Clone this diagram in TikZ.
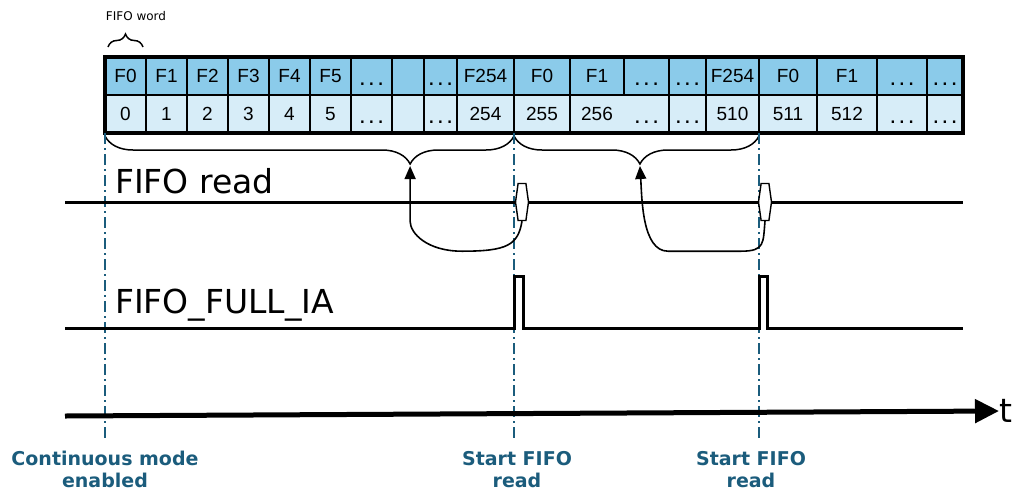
\documentclass[tikz,border=0pt]{standalone}
\usepackage{fontspec}
\setmainfont{DejaVu Sans}
\newfontfamily\cellfont{Liberation Sans}
\usetikzlibrary{arrows.meta, calc, fit, positioning, shapes.symbols, decorations.pathreplacing}

\definecolor{wordblue}{HTML}{8BCBEA}
\definecolor{addrblue}{HTML}{D7EDF8}
\definecolor{markteal}{HTML}{1B5C7C}
\newcommand{\celldots}{\raisebox{-3pt}{\fontsize{24}{24}\selectfont .\hspace{2.5pt}.\hspace{2.5pt}.}}

\begin{document}
\begin{tikzpicture}[x=1pt, y=-1pt, >={Triangle[length=13pt, width=11pt]},
    cell/.style={inner sep=0pt, outer sep=0pt, minimum height=38pt, text height=14pt, text depth=2pt, font=\cellfont\fontsize{19}{21}\selectfont},
    wordcell/.style={cell, fill=wordblue},
    addrcell/.style={cell, fill=addrblue},
    gridline/.style={line width=1.5pt},
    spanbrace/.style={decorate, decoration={brace, amplitude=#1}, line width=1.5pt},
    marker/.style={markteal, line width=1.4pt, dash pattern=on 11pt off 4pt on 2pt off 4pt},
    caption/.style={markteal, anchor=north, align=center, inner sep=0pt, font=\bfseries\fontsize{19}{22}\selectfont},
    signame/.style={anchor=base west, inner sep=0pt, font=\fontsize{33}{36}\selectfont},
    pill/.style={signal, signal to=east and west, signal pointer angle=164, draw, fill=white, line width=1.4pt, minimum width=13pt, minimum height=37pt, inner sep=0pt}]
  \useasboundingbox (0,0) rectangle (1022,493);

  % FIFO words (top row) and their addresses (bottom row)
  \foreach \xl/\xr/\fw/\ad [count=\i] in {105/146/F0/0, 146/187/F1/1, 187/228/F2/2, 228/269/F3/3, 269/310/F4/4, 310/351/F5/5, 351/392/\celldots/\celldots, 392/424//, 424/457/\celldots/\celldots, 457/514/F254/254, 514/570/F0/255, 570/624/F1/256, 624/669/\celldots/\celldots, 669/706/\celldots/\celldots, 706/759/F254/510, 759/817/F0/511, 817/877/F1/512, 877/927/\celldots/\celldots, 927/963/\celldots/\celldots}
  {
    \node[wordcell, minimum width={(\xr-\xl)*1pt}] at ({(\xl+\xr)/2}, 76) (word-\i) {\fw};
    \node[addrcell, minimum width={(\xr-\xl)*1pt}] at ({(\xl+\xr)/2}, 114) (addr-\i) {\ad};
  }
  \foreach \i in {2,...,19}
    \draw[gridline] (word-\i.north west) -- (word-\i.south west);
  \foreach \i in {2,3,4,5,6,7,8,9,10,11,12,14,15,16,17,18,19}
    \draw[gridline] (addr-\i.north west) -- (addr-\i.south west);
  \draw[gridline] (word-1.south west) -- (word-19.south east);
  \node[draw, line width=3.5pt, inner sep=0pt, fit=(word-1) (addr-19)] (table) {};

  \draw[spanbrace=13pt] ([xshift=3pt, yshift=10pt]word-1.north west) -- ([xshift=-3pt, yshift=10pt]word-1.north east);
  \node[font=\fontsize{12}{14}\selectfont, inner sep=0pt] at (136,16) (word-note) {FIFO word};

  % spans read out at each start
  \draw[spanbrace=28pt, decoration={mirror, aspect=0.746}] ([yshift=-3pt]addr-1.south west) -- ([yshift=-3pt]addr-11.south west);
  \draw[spanbrace=28pt, decoration={mirror, aspect=0.514}] ([yshift=-3pt]addr-11.south west) -- ([yshift=-3pt]addr-16.south west);
  \coordinate (tip-1) at ($(addr-1.south west)!0.746!(addr-11.south west) + (0,33)$);
  \coordinate (tip-2) at ($(addr-11.south west)!0.514!(addr-16.south west) + (0,33)$);

  \foreach \i/\c in {0/1, 1/11, 2/16}
    \draw[marker] (addr-\c.south west) -- ++(0,306) coordinate (mark-\i);

  % FIFO read
  \coordinate (read-0) at (65,202);
  \coordinate (read-1) at (963,202);
  \node[pill] (pill-1) at (522,202) {};
  \node[pill] (pill-2) at (765,202) {};
  \draw[line width=3pt] (read-0) -- (pill-1.west) (pill-1.east) -- (pill-2.west) (pill-2.east) -- (read-1);
  \node[signame] (read-name) at (115,193) {FIFO read};

  \draw[->, line width=1.6pt] (pill-1.south) .. controls +(-4,24) and +(45,0) .. ++(-60,30) .. controls +(-35,0) and +(0,12) .. (tip-1 |- pill-1.south) -- (tip-1);
  \draw[->, line width=1.6pt] (pill-2.south) .. controls +(-2,22) and +(24,0) .. ++(-24,30) -- ++(-73,0) .. controls +(-26,0) and +(2,32) .. (tip-2);

  % FIFO_FULL_IA
  \coordinate (full-0) at (65,328);
  \coordinate (full-1) at (963,328);
  \draw[line width=3pt] (full-0) -- (mark-1 |- full-0) -- ++(0,-52) -- ++(9,0) -- ++(0,52) -- (mark-2 |- full-0) -- ++(0,-52) -- ++(8,0) -- ++(0,52) -- (full-1);
  \node[signame] (full-name) at (115,313) {FIFO\_FULL\_IA};

  % time axis
  \coordinate (time-0) at (65,416);
  \node[anchor=west, inner sep=0pt, font=\fontsize{33}{36}\selectfont] (time-name) at (999,411) {t};
  \draw[line width=5pt, -{Triangle[length=24pt, width=23pt]}] (time-0) -- (time-name.west);

  \node[caption, below=12pt of mark-0] (cap-0) {Continuous mode\\enabled};
  \node[caption, below=12pt of mark-1, xshift=3pt] (cap-1) {Start FIFO\\read};
  \node[caption, below=12pt of mark-2, xshift=-8pt] (cap-2) {Start FIFO\\read};
\end{tikzpicture}
\end{document}
